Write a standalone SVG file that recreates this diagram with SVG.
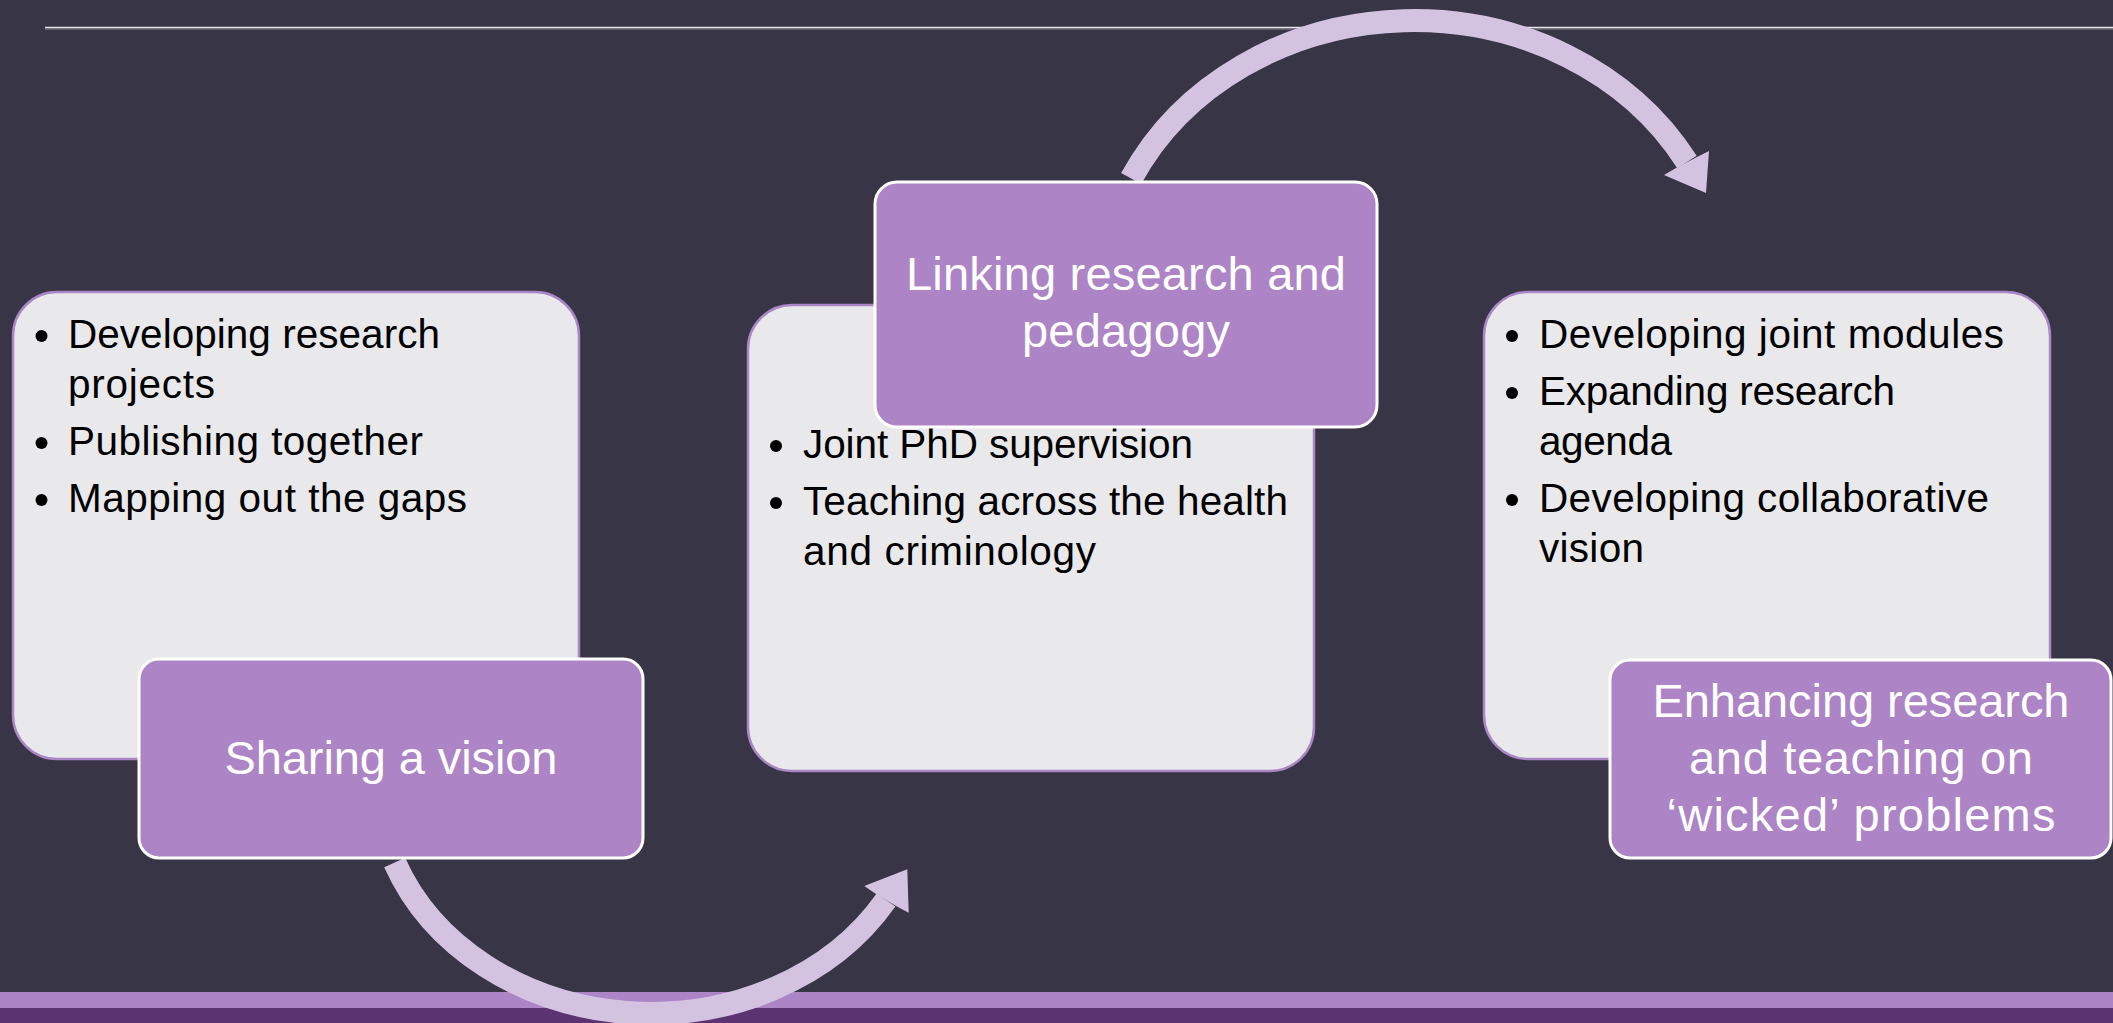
<svg xmlns="http://www.w3.org/2000/svg" width="2113" height="1023" viewBox="0 0 2113 1023">
  <defs>
    <style>
      .card { fill: #E9E9EB; stroke: #AB86C6; stroke-width: 2.5; }
      .tag { fill: #AD84C5; stroke: #FFFFFF; stroke-width: 3; }
      .arc { fill: none; stroke: #D3C3E0; stroke-width: 23; }
      .head { fill: #D3C3E0; }
      .dot { fill: #000000; }
      .bul { font-family: "Liberation Sans", Arial, sans-serif; font-size: 40.5px; fill: #000000; }
      .ttl { font-family: "Liberation Sans", Arial, sans-serif; font-size: 47px; fill: #FFFFFF; text-anchor: middle; }
    </style>
  </defs>

  <rect x="0" y="0" width="2113" height="1023" fill="#383546"/>
  <line x1="45" y1="27.5" x2="2113" y2="27.5" stroke="#E6E6EA" stroke-width="1.5"/>
  <line x1="45" y1="29" x2="2113" y2="29" stroke="#8C8A96" stroke-width="1"/>
  <rect x="0" y="992" width="2113" height="16" fill="#AD84C5"/>
  <rect x="0" y="1008" width="2113" height="15" fill="#5A3370"/>

  <g id="connectors">
    <path class="arc" d="M 394.7 862.5 A 274 233.4 0 0 0 886 900"/>
    <polygon class="head" points="907.3,869.3 864.3,886 876,894 896,906 908.7,912.7"/>
    <path class="arc" d="M 1131.2 178.6 A 314 279.5 0 0 1 1687 162"/>
    <polygon class="head" points="1706,193 1709,151 1697,157 1676,168 1664,175"/>
  </g>

  <g id="node-sharing">
    <rect class="card" x="13" y="292" width="566" height="467" rx="44" ry="44"/>
    <circle class="dot" cx="41.5" cy="336" r="6"/>
    <text class="bul" x="68" y="348" textLength="372">Developing research</text>
    <text class="bul" x="68" y="398" textLength="147">projects</text>
    <circle class="dot" cx="41.5" cy="443" r="6"/>
    <text class="bul" x="68" y="455" textLength="355">Publishing together</text>
    <circle class="dot" cx="41.5" cy="500" r="6"/>
    <text class="bul" x="68" y="512" textLength="399">Mapping out the gaps</text>
    <rect class="tag" x="139" y="659" width="504" height="199" rx="20" ry="20"/>
    <text class="ttl" x="391" y="774" textLength="333">Sharing a vision</text>
  </g>

  <g id="node-linking">
    <rect class="card" x="748" y="305" width="566" height="466" rx="44" ry="44"/>
    <circle class="dot" cx="776" cy="446" r="6"/>
    <text class="bul" x="803" y="458" textLength="390">Joint PhD supervision</text>
    <circle class="dot" cx="776" cy="503" r="6"/>
    <text class="bul" x="803" y="515" textLength="485">Teaching across the health</text>
    <text class="bul" x="803" y="565" textLength="293">and criminology</text>
    <rect class="tag" x="875" y="182" width="502" height="245" rx="22" ry="22"/>
    <text class="ttl" x="1126" y="290" textLength="440">Linking research and</text>
    <text class="ttl" x="1126" y="347" textLength="208">pedagogy</text>
  </g>

  <g id="node-enhancing">
    <rect class="card" x="1484" y="292" width="566" height="467" rx="44" ry="44"/>
    <circle class="dot" cx="1512" cy="336" r="6"/>
    <text class="bul" x="1539" y="348" textLength="465">Developing joint modules</text>
    <circle class="dot" cx="1512" cy="393" r="6"/>
    <text class="bul" x="1539" y="405" textLength="356">Expanding research</text>
    <text class="bul" x="1539" y="455" textLength="133">agenda</text>
    <circle class="dot" cx="1512" cy="500" r="6"/>
    <text class="bul" x="1539" y="512" textLength="450">Developing collaborative</text>
    <text class="bul" x="1539" y="562" textLength="105">vision</text>
    <rect class="tag" x="1610" y="660" width="501" height="198" rx="20" ry="20"/>
    <text class="ttl" x="1861" y="717" textLength="417">Enhancing research</text>
    <text class="ttl" x="1861" y="774" textLength="344">and teaching on</text>
    <text class="ttl" x="1861" y="831" textLength="389">‘wicked’ problems</text>
  </g>
</svg>
